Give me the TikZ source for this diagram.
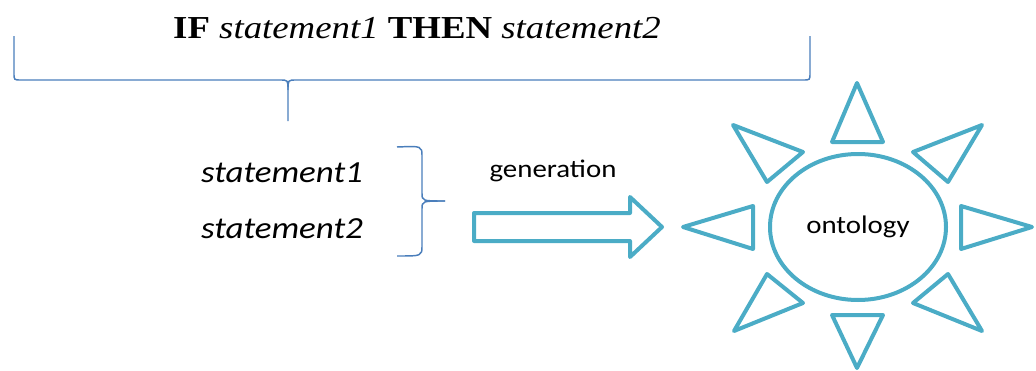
\documentclass[tikz,border=0pt]{standalone}
\usepackage{fontspec}
\setmainfont{Liberation Serif}[FakeStretch=1.15]
\newfontfamily\calib{Carlito}[FakeStretch=1.14]
\usetikzlibrary{shapes.geometric}
\definecolor{braceblue}{HTML}{4A7EBB}
\definecolor{sunblue}{HTML}{4BACC6}
\tikzset{
  brace/.style={draw=braceblue, line width=1.1pt},
  sunline/.style={draw=sunblue, line width=3pt, line join=round},
  stmt/.style={font=\calib\itshape\fontsize{23}{26}\selectfont, inner sep=0pt},
  plain/.style={font=\calib\fontsize{19}{22}\selectfont, inner sep=0pt}
}
\begin{document}
\begin{tikzpicture}[x=0.75pt,y=-0.75pt]
	\useasboundingbox (0,0) rectangle (1036,371);
	
	% rule on top
	\node[inner sep=0pt, font=\fontsize{24}{28}\selectfont] (rule) at (417,28)
		{\textbf{IF} \textit{statement1} \textbf{THEN} \textit{statement2}};
	
	% big brace
	\draw[brace] (14,36)--(14,73) .. controls (14,80) .. (21,80)--(280,80) .. controls (288,80) .. (288,90)--(288,121);
	\draw[brace] (288,90) .. controls (288,80) .. (296,80)--(803,80) .. controls (810,80) .. (810,73)--(810,36);
	
	\node[stmt] (st1) at (282,173) {statement1};
	\node[stmt] (st2) at (282,229) {statement2};
	
	% small brace
	\draw[brace] (397,147) .. controls (422,146) .. (422,156)--(422,193) .. controls (422,201) .. (445,201);
	\draw[brace] (445,201) .. controls (422,201) .. (422,209)--(422,246) .. controls (422,256) .. (397,256);
	
	\node[plain] (gen) at (553,171) {generation};
	
	% block arrow
	\draw[sunline] (474,213)--(630,213)--(630,197)--(662,227)--(630,257)--(630,241)--(474,241)--cycle;
	
	% the sun
	\node[sunline, ellipse, minimum width=132pt, minimum height=109.5pt, inner sep=0pt, plain] (onto) at (858,227) {ontology};
	
	\draw[sunline] (857,83)--(883,142)--(832,142)--cycle;
	\draw[sunline] (857,368)--(883,315)--(832,315)--cycle;
	\draw[sunline] (683,227)--(753,206)--(753,249)--cycle;
	\draw[sunline] (1032,227)--(961,206)--(961,249)--cycle;
	\draw[sunline] (733,125)--(803,152)--(767,182)--cycle;
	\draw[sunline] (982,125)--(913,152)--(948,182)--cycle;
	\draw[sunline] (734,331)--(803,303)--(767,274)--cycle;
	\draw[sunline] (982,331)--(913,303)--(948,274)--cycle;
	
\end{tikzpicture}
\end{document}
